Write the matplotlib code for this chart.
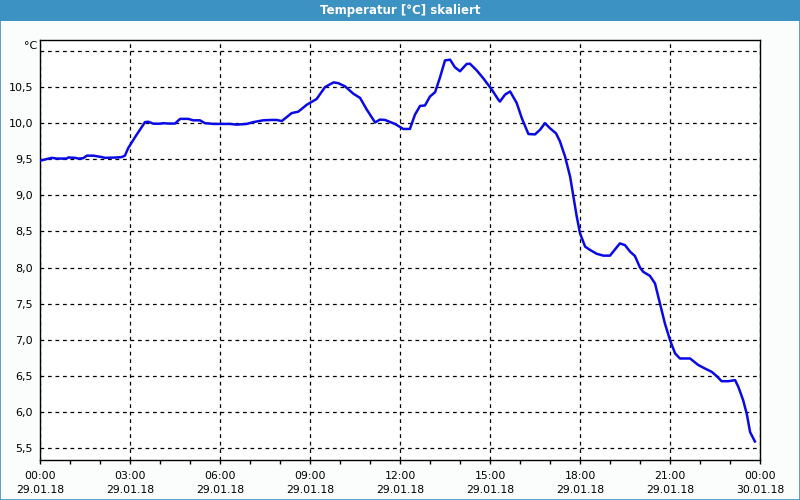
import matplotlib
matplotlib.use("Agg")
import matplotlib.pyplot as plt
from matplotlib.patches import Rectangle
from matplotlib.ticker import FixedLocator, FuncFormatter

# time in hours since 29.01.18 00:00
hours = [0.0, 0.39, 0.56, 0.89, 0.94, 1.17, 1.28, 1.44, 1.56, 1.78, 2.0, 2.17,
         2.56, 2.72, 2.83, 2.94, 3.22, 3.5, 3.61, 3.78, 4.0, 4.11, 4.28, 4.5,
         4.67, 4.94, 5.11, 5.33, 5.5, 5.67, 5.78, 6.0, 6.33, 6.56, 6.89, 7.11,
         7.44, 7.72, 7.89, 8.06, 8.39, 8.61, 8.89, 9.22, 9.5, 9.78, 9.94, 10.17,
         10.44, 10.67, 10.89, 11.17, 11.33, 11.5, 11.83, 12.11, 12.33, 12.5,
         12.67, 12.83, 13.0, 13.17, 13.33, 13.5, 13.67, 13.83, 14.0, 14.22,
         14.33, 14.56, 14.78, 15.06, 15.28, 15.33, 15.5, 15.67, 15.89, 16.06,
         16.28, 16.5, 16.67, 16.83, 17.0, 17.2, 17.33, 17.5, 17.67, 17.78,
         17.89, 18.0, 18.17, 18.33, 18.56, 18.78, 19.0, 19.33, 19.5, 19.67,
         19.83, 20.0, 20.11, 20.33, 20.5, 20.61, 20.72, 20.83, 21.0, 21.17,
         21.33, 21.67, 21.94, 22.17, 22.39, 22.56, 22.72, 22.94, 23.17, 23.28,
         23.44, 23.56, 23.67, 23.83]
temps = [9.48, 9.52, 9.51, 9.51, 9.525, 9.52, 9.51, 9.515, 9.55, 9.55, 9.535, 9.52,
         9.525, 9.53, 9.55, 9.655, 9.84, 10.015, 10.02, 9.993, 9.993, 10.0, 9.995, 9.995,
         10.06, 10.06, 10.04, 10.04, 10.0, 9.995, 9.99, 9.99, 9.99, 9.98, 9.99, 10.015,
         10.04, 10.045, 10.045, 10.03, 10.14, 10.16, 10.255, 10.335, 10.5, 10.565, 10.555, 10.51,
         10.41, 10.35, 10.19, 10.01, 10.05, 10.045, 9.99, 9.92, 9.92, 10.12,
         10.24, 10.245, 10.37, 10.43, 10.63, 10.87, 10.88, 10.775, 10.72, 10.82,
         10.825, 10.73, 10.62, 10.465, 10.325, 10.3, 10.395, 10.44, 10.28, 10.07,
         9.85, 9.845, 9.91, 10.0, 9.93, 9.86, 9.75, 9.54, 9.26, 8.985,
         8.71, 8.475, 8.29, 8.245, 8.19, 8.165, 8.165, 8.335, 8.31, 8.22,
         8.16, 8.0, 7.94, 7.885, 7.78, 7.595, 7.41, 7.225, 6.995, 6.81,
         6.74, 6.74, 6.65, 6.6, 6.555, 6.495, 6.425, 6.425, 6.44, 6.345,
         6.16, 5.97, 5.72, 5.59]

x_major = [0, 3, 6, 9, 12, 15, 18, 21, 24]
x_labels = ["00:00\n29.01.18", "03:00\n29.01.18", "06:00\n29.01.18", "09:00\n29.01.18",
            "12:00\n29.01.18", "15:00\n29.01.18", "18:00\n29.01.18", "21:00\n29.01.18",
            "00:00\n30.01.18"]
y_ticks = [5.5, 6.0, 6.5, 7.0, 7.5, 8.0, 8.5, 9.0, 9.5, 10.0, 10.5, 11.0]

title = "Temperatur [°C] skaliert"
unit = "°C"

fig = plt.figure(figsize=(8, 5), dpi=100)
fig.patch.set_facecolor("#fbfdfd")

# title bar
fig.patches.append(Rectangle((0, 1 - 21 / 500), 1, 21 / 500, transform=fig.transFigure,
                             facecolor="#3d92c4", edgecolor="none", zorder=0))
fig.patches.append(Rectangle((0.0006, 0.001), 0.9988, 0.998, transform=fig.transFigure,
                             facecolor="none", edgecolor="#3d92c4", linewidth=1.2, zorder=5))
fig.text(0.5, 1 - 10.5 / 500, title, color="white", ha="center", va="center",
         fontsize=8.5, fontweight="bold", family="DejaVu Sans")

ax = fig.add_axes([40 / 800, 40 / 500, 720 / 800, 420 / 500])
ax.set_facecolor("white")
ax.plot(hours, temps, color="#0a0ae6", linewidth=1.8, zorder=3)

ax.set_xlim(0, 24)
y_lo = 5.5 - 12 / 72
y_hi = 11.0 + 11 / 72
ax.set_ylim(y_lo, y_hi)

ax.xaxis.set_major_locator(FixedLocator(x_major))
ax.set_xticklabels(x_labels, fontsize=7.8, linespacing=1.5)
ax.xaxis.set_minor_locator(FixedLocator(list(range(0, 25))))
ax.tick_params(axis="x", which="both", direction="out", length=3, width=1,
               pad=5, color="black", labelcolor="black")

ax.yaxis.set_major_locator(FixedLocator(y_ticks))
ax.yaxis.set_major_formatter(FuncFormatter(
    lambda v, p: "" if v > 10.75 else f"{v:.1f}".replace(".", ",")))
ax.tick_params(axis="y", which="both", length=0, pad=5, labelsize=8)

ax.grid(True, which="major", color="black", linestyle=(0, (3, 3)), linewidth=0.9)
for s in ax.spines.values():
    s.set_color("black")
    s.set_linewidth(1.0)

fig.text(37 / 800, 1 - 46 / 500, unit, ha="right", va="center", fontsize=8)

fig.savefig("out.png", dpi=100, facecolor=fig.get_facecolor())
